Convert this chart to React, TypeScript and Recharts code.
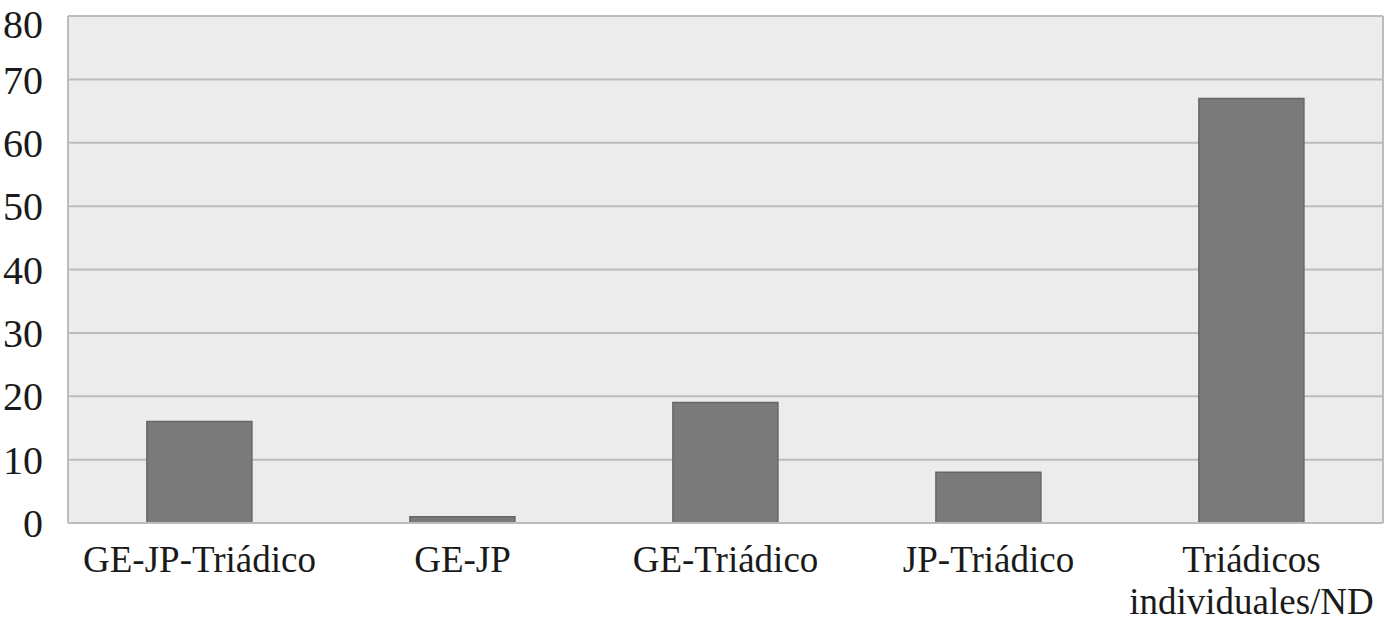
import React from 'react'
import { BarChart, Bar, CartesianGrid, XAxis, YAxis } from 'recharts'

const categories = ['GE-JP-Triádico', 'GE-JP', 'GE-Triádico', 'JP-Triádico', 'Triádicos individuales/ND']
const values = [16, 1, 19, 8, 67]
const yTicks = [0, 10, 20, 30, 40, 50, 60, 70, 80]

const data = categories.map((name, i) => ({ name, value: values[i] }))

const FONT = '"Liberation Serif", serif'

// long labels wrap on spaces, like the original
const CategoryTick = (props: any) => {
	const { x, y, payload } = props
	const label: string = payload.value
	const lines = label.length > 16 ? label.split(' ') : [label]
	return (
		<text
			x={x}
			y={y}
			textAnchor={'middle'}
			fontFamily={FONT}
			fontSize={37}
			fill={'#1a1a1a'}
		>
			{lines.map((line, i) => (
				<tspan key={i} x={x} dy={i === 0 ? 31 : 42}>
					{line}
				</tspan>
			))}
		</text>
	)
}

export default function App() {
	return (
		<div style={{ position: 'absolute', left: 0, top: 0 }}>
			<BarChart
				width={1389}
				height={624}
				data={data}
				margin={{ top: 16, right: 6, bottom: 0, left: 0 }}
				barCategoryGap={'30%'}
			>
				<CartesianGrid
					fill={'#ececec'}
					stroke={'#bcbcbc'}
					strokeWidth={2}
					vertical={true}
					verticalCoordinatesGenerator={({ offset }: any) => [offset.left, offset.left + offset.width]}
				/>
				<XAxis
					dataKey={'name'}
					height={101}
					tickLine={false}
					axisLine={{ stroke: '#bcbcbc', strokeWidth: 2 }}
					tickSize={0}
					tickMargin={18}
					interval={0}
					tick={<CategoryTick />}
				/>
				<YAxis
					width={68}
					domain={[0, 80]}
					ticks={yTicks}
					tickLine={false}
					axisLine={false}
					tickSize={0}
					tickMargin={25}
					tick={{ fontFamily: FONT, fontSize: 40, fill: '#1a1a1a' }}
				/>
				<Bar
					dataKey={'value'}
					fill={'#7a7a7a'}
					stroke={'#666'}
					strokeWidth={1.5}
					isAnimationActive={false}
				/>
			</BarChart>
		</div>
	)
}
